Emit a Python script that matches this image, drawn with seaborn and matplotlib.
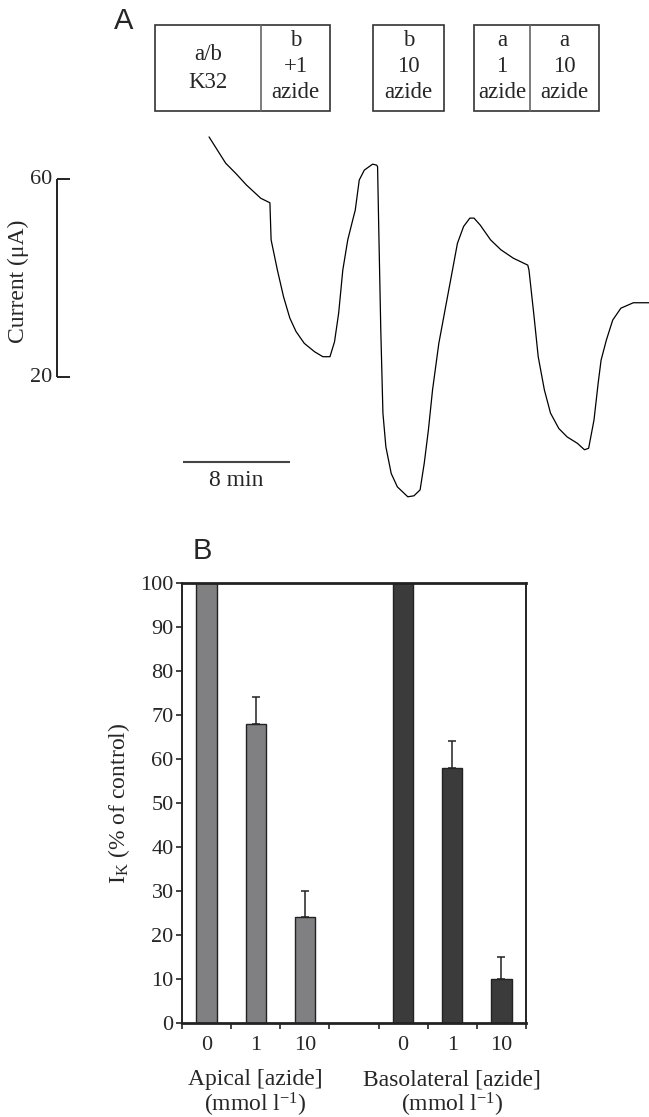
import numpy as np
import pandas as pd
import matplotlib
matplotlib.use("Agg")
import matplotlib.pyplot as plt
import matplotlib.transforms as mtransforms
from matplotlib.patches import Rectangle
import seaborn as sns

# ---------------- data ----------------
# Panel A: current trace (time in min, current in uA)
trace_time = [15.63, 16.87, 17.64, 18.42, 19.50, 20.18, 20.27, 20.74, 21.20, 21.67,
              22.13, 22.75, 23.52, 24.14, 24.67, 25.01, 25.32, 25.63, 26.00, 26.37,
              26.56, 26.86, 27.24, 27.86, 28.16, 28.23, 28.32, 28.47, 28.63, 28.85,
              29.25, 29.71, 30.49, 30.95, 31.41, 31.72, 32.03, 32.34, 32.81, 33.27,
              33.74, 34.20, 34.66, 35.13, 35.44, 35.90, 36.68, 37.45, 38.38, 39.46,
              39.55, 39.93, 40.24, 40.70, 41.16, 41.78, 42.40, 43.17, 43.70, 44.01,
              44.41, 44.72, 44.94, 45.34, 45.81, 46.42, 47.35, 48.53]
trace_current = [68.5, 63.2, 61.1, 58.8, 56.1, 55.2, 47.7, 41.6, 36.2, 31.9,
                 29.2, 26.8, 25.1, 24.1, 24.1, 27.1, 32.9, 41.6, 47.7, 51.7,
                 53.7, 59.8, 61.8, 63.0, 62.8, 62.5, 49.7, 29.5, 12.7, 5.9,
                 0.5, -2.2, -4.2, -4.0, -2.8, 2.6, 9.3, 17.4, 26.8, 33.5,
                 40.3, 47.0, 50.4, 52.1, 52.1, 50.7, 47.7, 45.7, 44.0, 42.6,
                 41.6, 32.2, 24.1, 17.4, 12.7, 9.6, 7.9, 6.6, 5.3, 5.6,
                 11.3, 18.7, 23.4, 27.5, 31.5, 33.9, 35.0, 35.0]
scale_current = [20, 60]
scale_time_min = 8

# Panel B: bar chart
categories = ["Apical 0", "Apical 1", "Apical 10", "",
              "Basolateral 0", "Basolateral 1", "Basolateral 10"]
tick_labels = ["0", "1", "10", "", "0", "1", "10"]
bar_cats = ["Apical 0", "Apical 1", "Apical 10",
            "Basolateral 0", "Basolateral 1", "Basolateral 10"]
bar_groups = ["Apical", "Apical", "Apical", "Basolateral", "Basolateral", "Basolateral"]
bar_values = [100, 68, 24, 100, 58, 10]
bar_errors = [0, 6, 6, 0, 6, 5]
group_colors = {"Apical": "#7f8084", "Basolateral": "#3b3b3b"}

# ---------------- style ----------------
sns.set_theme(style="ticks")
plt.rcParams["font.family"] = ["Liberation Serif", "DejaVu Serif"]
plt.rcParams["mathtext.fontset"] = "custom"
plt.rcParams["mathtext.rm"] = "Liberation Serif"
plt.rcParams["mathtext.it"] = "Liberation Serif:italic"
plt.rcParams["mathtext.bf"] = "Liberation Serif:bold"

W, H = 649, 1117
fig = plt.figure(figsize=(W / 100, H / 100), dpi=100)


def fpx(x, y):
    return (x / W, 1 - y / H)


# ---------------- Panel A ----------------
px_per_min = 107 / 8.0
px_per_uA = 4.95
a_top, a_bot = 0, 520
axA = fig.add_axes([0, 1 - a_bot / H, 1, (a_bot - a_top) / H])
ylo = 60 - (a_bot - 179) / px_per_uA
yhi = 60 + (179 - a_top) / px_per_uA
axA.set_xlim(0, W / px_per_min)
axA.set_ylim(ylo, yhi)
axA.axis("off")

trace_df = pd.DataFrame({"time": trace_time, "current": trace_current})
sns.lineplot(data=trace_df, x="time", y="current", ax=axA, sort=False,
             estimator=None, color="black", lw=0.9, clip_on=False)

# vertical calibration bar
xb = 57 / px_per_min
xt = 70 / px_per_min
axA.plot([xb, xb], scale_current, color="#222222", lw=1.4, solid_capstyle="butt")
for v in scale_current:
    axA.plot([xb, xt], [v, v], color="#222222", lw=1.4, solid_capstyle="butt")
    axA.text(52 / px_per_min, v, str(v), ha="right", va="center", fontsize=16)
fig.text(*fpx(18, 281), "Current (\u03bcA)", rotation=90, ha="center", va="center",
         fontsize=17)

# time bar
t0 = 183 / px_per_min
yb = 60 - (462 - 179) / px_per_uA
axA.plot([t0, t0 + scale_time_min], [yb, yb], color="#444444", lw=1.5,
         solid_capstyle="butt")
axA.text(t0 + scale_time_min / 2, 60 - (481 - 179) / px_per_uA, "8 min",
         ha="center", va="center", fontsize=17)

# solution boxes
def box(x0, x1, y0=25, y1=111, lw=1.2, color="#333333"):
    r = Rectangle(fpx(x0, y1), (x1 - x0) / W, (y1 - y0) / H, transform=fig.transFigure,
                  fill=False, lw=lw, edgecolor=color)
    fig.add_artist(r)


def vline(x, y0=25, y1=111):
    fig.add_artist(plt.Line2D([x / W, x / W], [1 - y0 / H, 1 - y1 / H],
                              transform=fig.transFigure, color="#666666", lw=1.2))


box(155, 330)
vline(261)
box(373, 444)
box(474, 599)
vline(530)

box_texts = [
    (208, [("a/b", 55), ("K32", 82)]),
    (295.5, [("b", 41), ("+1", 67), ("azide", 93)]),
    (408.5, [("b", 41), ("10", 67), ("azide", 93)]),
    (502, [("a", 41), ("1", 67), ("azide", 93)]),
    (564.5, [("a", 41), ("10", 67), ("azide", 93)]),
]
for xc, lines in box_texts:
    for s, yc in lines:
        fig.text(*fpx(xc, yc), s, ha="center", va="center", fontsize=16.5)

fig.text(*fpx(124, 21), "A", ha="center", va="center", fontsize=21,
         family="Liberation Sans")
fig.text(*fpx(202, 551), "B", ha="center", va="center", fontsize=21,
         family="Liberation Sans")

# ---------------- Panel B ----------------
bl, br, bt, bb = 182, 526, 583, 1023
axB = fig.add_axes([bl / W, 1 - bb / H, (br - bl) / W, (bb - bt) / H])
bar_df = pd.DataFrame({"cat": bar_cats, "side": bar_groups, "value": bar_values})
sns.barplot(data=bar_df, x="cat", y="value", hue="side", order=categories,
            palette=group_colors, dodge=False, width=0.41, errorbar=None,
            edgecolor="#222222", linewidth=1.0, legend=False, ax=axB, zorder=2)

pos = [categories.index(c) for c in bar_cats]
axB.errorbar(pos, bar_values, yerr=[np.zeros(len(bar_errors)), bar_errors],
             fmt="none", ecolor="#222222", elinewidth=1.1, capsize=3, capthick=1.1,
             zorder=3)

axB.set_xlim(-0.5, len(categories) - 0.5)
axB.set_ylim(0, 100)
axB.set_yticks(np.arange(0, 101, 10))
axB.set_xticks(np.arange(-0.5, len(categories), 1.0))
axB.set_xticklabels([])
axB.set_xticks(range(len(categories)), minor=True)
axB.set_xticklabels(tick_labels, minor=True, fontsize=16)
axB.tick_params(axis="x", which="major", direction="out", length=4, width=1.2,
                color="#222222")
axB.tick_params(axis="x", which="minor", length=0, pad=9)
axB.tick_params(axis="y", direction="out", length=4, width=1.2, pad=2,
                labelsize=16, color="#222222")
axB.set_xlabel("")
axB.set_ylabel(r"I$_{\mathrm{K}}$ (% of control)", fontsize=17)
axB.yaxis.set_label_coords(-0.145, 0.5)

for side in ["top", "bottom"]:
    axB.spines[side].set_linewidth(2.0)
for side in ["left", "right"]:
    axB.spines[side].set_linewidth(1.4)
for s in axB.spines.values():
    s.set_color("#222222")
    s.set_visible(True)

trans = mtransforms.blended_transform_factory(axB.transData, fig.transFigure)
axB.text(1, 1 - 1080 / H, "Apical [azide]", transform=trans, ha="center",
         va="center", fontsize=17)
axB.text(1, 1 - 1105 / H, r"(mmol l$^{-1}$)", transform=trans, ha="center",
         va="center", fontsize=17)
axB.text(5, 1 - 1080 / H, "Basolateral [azide]", transform=trans, ha="center",
         va="center", fontsize=17)
axB.text(5, 1 - 1105 / H, r"(mmol l$^{-1}$)", transform=trans, ha="center",
         va="center", fontsize=17)

fig.savefig("out.png", dpi=100)
